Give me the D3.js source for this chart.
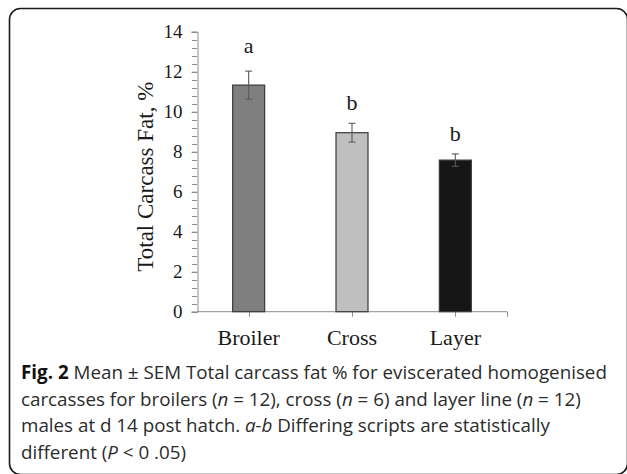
<!DOCTYPE html>
<html>
<head>
<meta charset="utf-8">
<script src="https://cdn.jsdelivr.net/npm/d3@7"></script>
<style>
  body { margin: 0; background: #fff; }
  svg { display: block; }
</style>
</head>
<body>
<div id="chart"></div>
<script>
// data
const categories = ['Broiler', 'Cross', 'Layer'];
const means = [11.33, 8.95, 7.58];
const sems = [0.70, 0.47, 0.31];
const letters = ['a', 'b', 'b'];
const letterLevels = [12.92, 10.09, 8.55]; // where the significance letters sit (data units)
const yTickValues = [0, 2, 4, 6, 8, 10, 12, 14];
const yTitle = 'Total Carcass Fat, %';

const W = 627, H = 474;
const barColors = ['#7f7f7f', '#bfbfbf', '#161616'];
const serif = '"Liberation Serif", "Times New Roman", serif';
const sans = '"Open Sans", "Noto Sans", sans-serif';

const svg = d3.select('#chart').append('svg')
  .attr('width', W)
  .attr('height', H);

// rounded frame (right and bottom run off the picture edge)
svg.append('rect')
  .attr('x', 9.5).attr('y', 8.5)
  .attr('width', 618).attr('height', 466)
  .attr('rx', 11).attr('ry', 11)
  .attr('fill', 'none')
  .attr('stroke', '#1a1a1a')
  .attr('stroke-width', 1.6);

// scales
const x = d3.scaleBand().domain(categories).range([197, 507]);
const y = d3.scaleLinear().domain([0, 14]).range([311.7, 31.7]);
const barW = 32;
const axisColor = '#8c8c8c';

// minor ticks on y axis every 0.4
const minor = d3.range(0, 14.01, 0.4).map(v => +v.toFixed(1));
svg.append('g').selectAll('line').data(minor).enter().append('line')
  .attr('x1', 192).attr('x2', 197)
  .attr('y1', d => Math.round(y(d)) + 0.5)
  .attr('y2', d => Math.round(y(d)) + 0.5)
  .attr('stroke', axisColor).attr('stroke-width', 1);

// y axis
const yAxis = svg.append('g')
  .attr('transform', 'translate(197.5,0)')
  .call(d3.axisLeft(y).tickValues(yTickValues).tickSize(6).tickPadding(9).tickFormat(d3.format('d')));
yAxis.select('.domain').attr('stroke', axisColor);
yAxis.selectAll('.tick line').attr('stroke', axisColor);
yAxis.selectAll('text')
  .attr('fill', '#1a1a1a')
  .style('font-family', serif)
  .style('font-size', '19px');

// x axis: ticks at the category centres and the far end
const xAxisG = svg.append('g').attr('transform', `translate(0,${y(0)})`);
xAxisG.append('line')
  .attr('x1', 197).attr('x2', 507)
  .attr('stroke', axisColor).attr('stroke-width', 1);
const xTickPos = categories.map(c => x(c) + x.bandwidth() / 2).concat([507]);
xAxisG.selectAll('.xt').data(xTickPos).enter().append('line')
  .attr('class', 'xt')
  .attr('x1', d => Math.round(d) + 0.5).attr('x2', d => Math.round(d) + 0.5)
  .attr('y1', 0).attr('y2', 5)
  .attr('stroke', axisColor);
xAxisG.selectAll('.xl').data(categories).enter().append('text')
  .attr('class', 'xl')
  .attr('x', d => x(d) + x.bandwidth() / 2)
  .attr('y', 33.5)
  .attr('text-anchor', 'middle')
  .attr('fill', '#1a1a1a')
  .style('font-family', serif)
  .style('font-size', '22px')
  .text(d => d);

// bars
svg.selectAll('.bar').data(categories).enter().append('rect')
  .attr('class', 'bar')
  .attr('x', d => x(d) + x.bandwidth() / 2 - barW / 2)
  .attr('y', (d, i) => y(means[i]))
  .attr('width', barW)
  .attr('height', (d, i) => y(0) - y(means[i]))
  .attr('fill', (d, i) => barColors[i])
  .attr('stroke', '#3a3a3a')
  .attr('stroke-width', 1.2);

// error bars
const err = svg.selectAll('.err').data(categories).enter().append('g')
  .attr('class', 'err')
  .attr('stroke', '#5a5a5a')
  .attr('stroke-width', 1.1);
err.append('line')
  .attr('x1', d => x(d) + x.bandwidth() / 2)
  .attr('x2', d => x(d) + x.bandwidth() / 2)
  .attr('y1', (d, i) => y(means[i] + sems[i]))
  .attr('y2', (d, i) => y(means[i] - sems[i]));
[1, -1].forEach(s => {
  err.append('line')
    .attr('x1', d => x(d) + x.bandwidth() / 2 - 3.5)
    .attr('x2', d => x(d) + x.bandwidth() / 2 + 3.5)
    .attr('y1', (d, i) => y(means[i] + s * sems[i]))
    .attr('y2', (d, i) => y(means[i] + s * sems[i]));
});

// significance letters
svg.selectAll('.sig').data(categories).enter().append('text')
  .attr('class', 'sig')
  .attr('x', d => x(d) + x.bandwidth() / 2)
  .attr('y', (d, i) => y(letterLevels[i]))
  .attr('text-anchor', 'middle')
  .attr('fill', '#1a1a1a')
  .style('font-family', serif)
  .style('font-size', '22px')
  .text((d, i) => letters[i]);

// y title
svg.append('text')
  .attr('transform', `translate(153,${(y(0) + y(14)) / 2 + 5}) rotate(-90)`)
  .attr('text-anchor', 'middle')
  .attr('fill', '#1a1a1a')
  .style('font-family', serif)
  .style('font-size', '23px')
  .text(yTitle);

// caption
const caption = [
  [['Fig. 2', 'b'], [' Mean \u00b1 SEM Total carcass fat % for eviscerated homogenised', '']],
  [['carcasses for broilers (', ''], ['n', 'i'], [' = 12), cross (', ''], ['n', 'i'], [' = 6) and layer line (', ''], ['n', 'i'], [' = 12)', '']],
  [['males at d 14 post hatch. ', ''], ['a-b', 'i'], [' Differing scripts are statistically', '']],
  [['different (', ''], ['P', 'i'], [' < 0 .05)', '']]
];
const capG = svg.append('g')
  .style('font-family', sans)
  .style('font-size', '18.8px')
  .attr('fill', '#2b2b2b');
caption.forEach((line, li) => {
  const t = capG.append('text')
    .attr('x', 21)
    .attr('y', 379 + li * 26.7);
  line.forEach(([s, st]) => {
    t.append('tspan')
      .attr('font-weight', st === 'b' ? 700 : 400)
      .attr('font-style', st === 'i' ? 'italic' : 'normal')
      .attr('fill', st === 'b' ? '#111' : null)
      .text(s);
  });
});
</script>
</body>
</html>
